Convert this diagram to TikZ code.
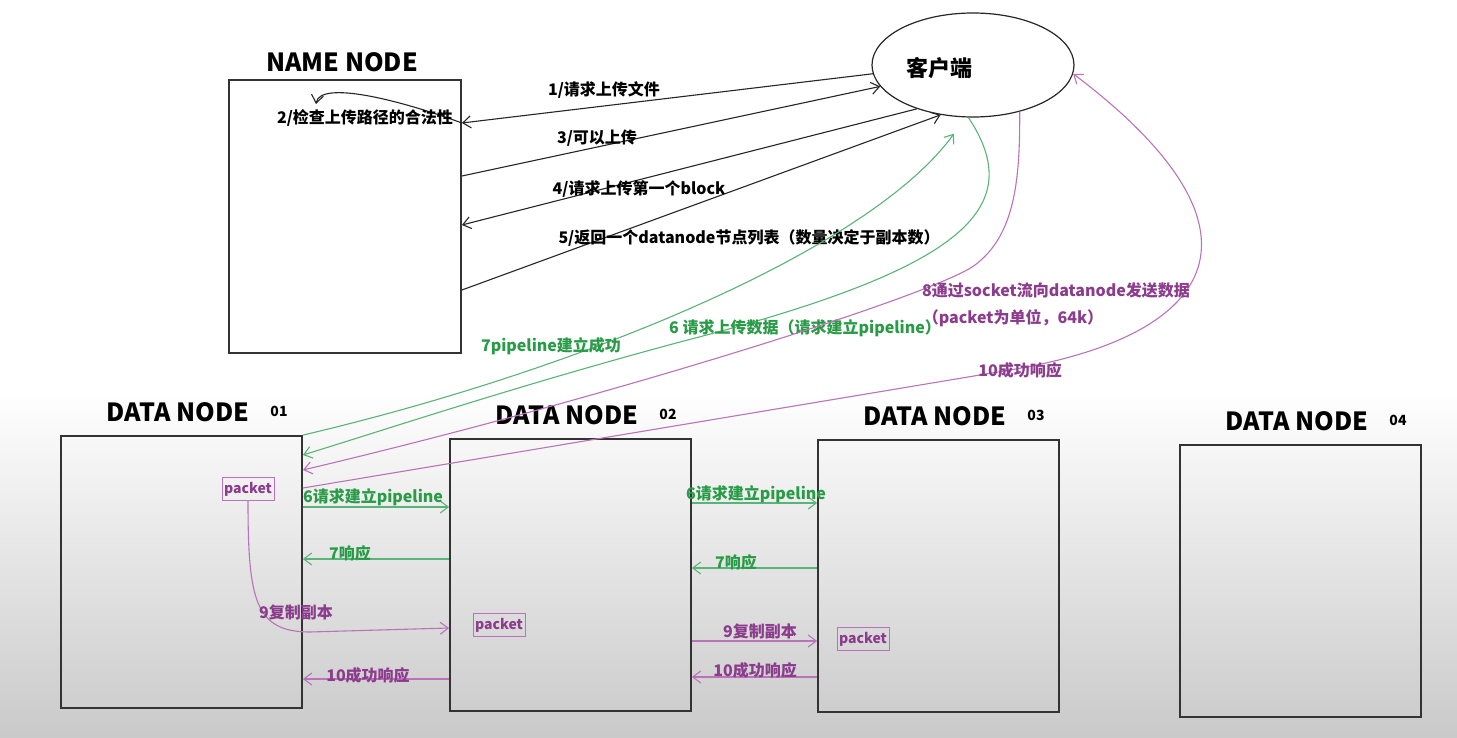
\documentclass[tikz,border=0pt]{standalone}
\usepackage{fontspec}
\setmainfont{Noto Sans CJK SC}
\usetikzlibrary{shapes.geometric,fit,arrows.meta}
\definecolor{grnline}{RGB}{90,180,120}
\definecolor{grntext}{RGB}{40,155,70}
\definecolor{prpline}{RGB}{185,115,185}
\definecolor{prptext}{RGB}{140,60,140}
\begin{document}
\begin{tikzpicture}[x=0.5pt,y=-0.5pt,>={Straight Barb[length=4pt,width=6pt]},
	box/.style={draw=black!80,line width=0.9pt,inner sep=0pt},
	title/.style={font=\bfseries\fontsize{12.5}{14}\selectfont},
	num/.style={font=\bfseries\fontsize{7}{8}\selectfont},
	lbl/.style={font=\bfseries\fontsize{8}{9}\selectfont,inner sep=1pt},
	blk/.style={draw=black!85,line width=0.55pt},
	grn/.style={draw=grnline,line width=0.55pt},
	prp/.style={draw=prpline,line width=0.55pt},
	pkt/.style={draw=prpline,text=prptext,font=\bfseries\fontsize{7}{8}\selectfont,inner sep=1pt,minimum height=11.5pt,minimum width=23.5pt}]
	%\draw[very thin,color=gray] (0,0) grid (1457,738);
	\fill[white] (0,0) rectangle (1457,738);
	\shade[top color=white,bottom color=black!21] (0,390) rectangle (1457,738);
	\useasboundingbox (0,0) rectangle (1457,738);
	% name node and client
	\node[box,fit={(229,80) (461,353)}] (nn) {};
	\node[title] (nn-title) at (342,62) {NAME NODE};
	\node[draw=black!85,ellipse,line width=0.6pt,minimum width=101pt,minimum height=52pt,inner sep=0pt] (client) at (973,65) {};
	\node[font=\bfseries\fontsize{11}{12}\selectfont] (client-txt) at (939,68) {客户端};
	% data nodes
	\foreach \i/\xa/\ya in {1/61/436, 2/450/439, 3/818/440, 4/1180/445} {
		\node[box,fit={(\xa,\ya) (\xa+241,\ya+272)}] (dn\i) {};
		\node[title] (dn\i-title) at (\xa+117,\ya-24) {DATA NODE};
		\node[num] (dn\i-num) at (\xa+218,\ya-25) {0\i};
	}
	\node[pkt] (p1) at (248,489) {packet};
	\node[pkt] (p2) at (499,625) {packet};
	\node[pkt] (p3) at (863,639) {packet};
	% steps 1-5
	\draw[blk,->] (client.185) -- (nn.east |- 0,123);
	\draw[blk,->] (nn.east |- 0,123) .. controls (400,100) and (320,80) .. (316,104);
	\draw[blk,->] (nn.east |- 0,176) -- (client.193);
	\draw[blk,->] (client.218) -- (nn.east |- 0,225);
	\draw[blk,->] (nn.east |- 0,290) -- (client.237);
	\node[lbl] (s1) at (604,90) {1/请求上传文件};
	\node[lbl] (s2) at (365,118) {2/检查上传路径的合法性};
	\node[lbl] (s3) at (597,138) {3/可以上传};
	\node[lbl] (s4) at (639,189) {4/请求上传第一个block};
	\node[lbl] (s5) at (749,238) {5/返回一个datanode节点列表（数量决定于副本数）};
	% pipeline
	\draw[grn,->] (client.265) .. controls (1030,210) and (960,270) .. (680,342) .. controls (520,385) and (400,425) .. (dn1.east |- 0,455);
	\draw[grn,->,shorten >=10pt] (dn1.north east) .. controls (580,370) and (870,250) .. (client.262);
	\node[lbl,text=grntext] (s6) at (805,328) {6 请求上传数据（请求建立pipeline）};
	\node[lbl,text=grntext] (s7) at (551,346) {7pipeline建立成功};
	\draw[grn,->] (dn1.east |- 0,507) -- (dn2.west |- 0,507);
	\draw[grn,->] (dn2.east |- 0,503) -- (dn3.west |- 0,503);
	\draw[grn,->] (dn2.west |- 0,559) -- (dn1.east |- 0,559);
	\draw[grn,->] (dn3.west |- 0,568) -- (dn2.east |- 0,568);
	\node[lbl,text=grntext] (s6a) at (373,497) {6请求建立pipeline};
	\node[lbl,text=grntext] (s6b) at (756,494) {6请求建立pipeline};
	\node[lbl,text=grntext] (s7a) at (350,553) {7响应};
	\node[lbl,text=grntext] (s7b) at (736,562) {7响应};
	% data transfer
	\draw[prp,->] (client.315) .. controls (1020,180) and (1015,235) .. (975,265) .. controls (935,295) and (600,400) .. (dn1.east |- 0,470);
	\draw[prp,->] (dn1.east |- 0,488) -- (1010,370) .. controls (1220,335) and (1280,230) .. (client.355);
	\node[lbl,text=prptext] (s8a) at (1056,290) {8通过socket流向datanode发送数据};
	\node[lbl,text=prptext] (s8b) at (1013,318) {（packet为单位，64k）};
	\node[lbl,text=prptext] (s10) at (1020,370) {10成功响应};
	\draw[prp,->] (p1.south) .. controls (248,600) and (255,632) .. (310,632) -- (dn2.west |- 0,628);
	\draw[prp,->] (dn2.east |- 0,641) -- (dn3.west |- 0,641);
	\draw[prp,->] (dn2.west |- 0,679) -- (dn1.east |- 0,679);
	\draw[prp,->] (dn3.west |- 0,677) -- (dn2.east |- 0,677);
	\node[lbl,text=prptext] (s9a) at (296,612) {9复制副本};
	\node[lbl,text=prptext] (s9b) at (760,631) {9复制副本};
	\node[lbl,text=prptext] (s10a) at (368,675) {10成功响应};
	\node[lbl,text=prptext] (s10b) at (755,670) {10成功响应};
\end{tikzpicture}
\end{document}
